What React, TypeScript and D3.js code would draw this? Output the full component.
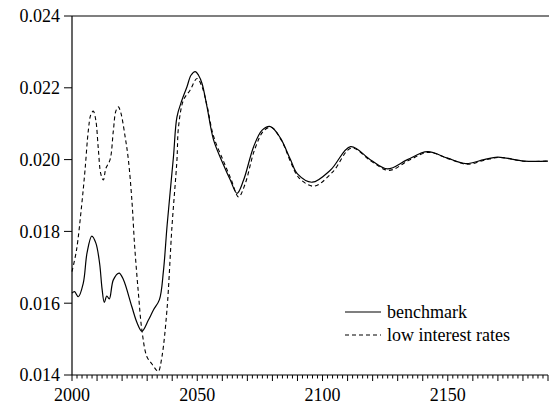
import React from "react";
import * as d3 from "d3";

const benchYears = [2000, 2001, 2002.5, 2004.5, 2006, 2007.9, 2009.5, 2011, 2012, 2012.9, 2013.9, 2014.9, 2016.5, 2018.8, 2020.5, 2023.9, 2026, 2027.9, 2030.5, 2032.5, 2034.9, 2036.5, 2038, 2040.5, 2041.9, 2043.9, 2045.9, 2047.5, 2049.2, 2050.5, 2051.9, 2053.9, 2056.5, 2060.5, 2063.2, 2065.9, 2068.5, 2072.5, 2075.9, 2079.2, 2083.2, 2087.2, 2090, 2095.9, 2103.2, 2111.2, 2119.2, 2125.9, 2133.9, 2141.9, 2149.9, 2157.2, 2164.5, 2169.9, 2180.5, 2190];
const benchValues = [0.01628, 0.01632, 0.01618, 0.01656, 0.0174, 0.01787, 0.01768, 0.01712, 0.0164, 0.01602, 0.0162, 0.01612, 0.01665, 0.01684, 0.01666, 0.0159, 0.01545, 0.01522, 0.01553, 0.01581, 0.0161, 0.0169, 0.0182, 0.02008, 0.02119, 0.02166, 0.02203, 0.02235, 0.02245, 0.02235, 0.02212, 0.02147, 0.02055, 0.01985, 0.01943, 0.01906, 0.01943, 0.02036, 0.02082, 0.02092, 0.0206, 0.02, 0.0196, 0.01937, 0.01971, 0.02036, 0.01999, 0.01974, 0.02, 0.02022, 0.02004, 0.01989, 0.02, 0.02007, 0.01996, 0.01996];

const lowYears = [2000, 2001.8, 2003.8, 2005.2, 2006.5, 2007.5, 2008.5, 2009.5, 2010.5, 2011.5, 2012.5, 2013.5, 2015.2, 2016.5, 2017.5, 2018.5, 2019.5, 2021.2, 2022.5, 2023.9, 2025, 2026.5, 2027.9, 2029.9, 2032, 2033.9, 2034.5, 2035.9, 2037.9, 2039.9, 2041.9, 2042.5, 2044.5, 2047.2, 2049.9, 2051.9, 2053.9, 2056.5, 2060.5, 2063.5, 2066.5, 2069, 2073, 2076.5, 2079.5, 2083.5, 2087.5, 2090.5, 2096.5, 2104, 2111.5, 2119.5, 2126.5, 2134.5, 2142.2, 2150.5, 2157.8, 2165, 2170.5, 2181, 2190];
const lowValues = [0.01688, 0.01748, 0.01869, 0.01971, 0.0208, 0.02125, 0.02135, 0.0211, 0.0203, 0.0196, 0.01943, 0.01975, 0.02, 0.0208, 0.02135, 0.02147, 0.0213, 0.02064, 0.02, 0.01887, 0.0176, 0.01628, 0.01525, 0.01451, 0.0143, 0.01412, 0.0141, 0.01451, 0.01581, 0.01813, 0.02, 0.0209, 0.02166, 0.02194, 0.02226, 0.02203, 0.0215, 0.02065, 0.01995, 0.01945, 0.01896, 0.0193, 0.0203, 0.0208, 0.0209, 0.02055, 0.0199, 0.0195, 0.01926, 0.01965, 0.02032, 0.01995, 0.0197, 0.01998, 0.0202, 0.02002, 0.01987, 0.01999, 0.02006, 0.01995, 0.01996];

const yTicks = [0.014, 0.016, 0.018, 0.02, 0.022, 0.024];
const xLabelTicks = [2000, 2050, 2100, 2150];
const seriesNames = ["benchmark", "low interest rates"];

const W = 549;
const H = 412;
const left = 72;
const right = 548;
const top = 16;
const bottom = 375;
const FONT = "\"Liberation Serif\", \"Times New Roman\", Times, \"Nimbus Roman\", \"DejaVu Serif\", \"Noto Serif\", serif";
const textStyle: React.CSSProperties = { fontFamily: FONT, fontSize: "18px" };

export default function App() {
  const x = d3.scaleLinear().domain([2000, 2190]).range([left, right]);
  const y = d3.scaleLinear().domain([0.014, 0.024]).range([bottom, top]);

  const line = d3
    .line<[number, number]>()
    .x((d) => x(d[0]))
    .y((d) => y(d[1]))
    .curve(d3.curveCatmullRom.alpha(0.5));

  const benchPath = line(benchYears.map((yr, i) => [yr, benchValues[i]]) as [number, number][]) || "";
  const lowPath = line(lowYears.map((yr, i) => [yr, lowValues[i]]) as [number, number][]) || "";

  const minorTicks = d3.range(2000, 2191, 2);

  return (
    <svg
      width={W}
      height={H}
      style={{ position: "absolute", left: 0, top: 0, background: "#fff", fontFamily: FONT }}
    >
      <rect x={0} y={0} width={W} height={H} fill="#fff" />
      <line x1={left} x2={right + 1} y1={top} y2={top} stroke="#000" strokeWidth={1.2} />
      <line x1={left} x2={left} y1={top} y2={bottom} stroke="#000" strokeWidth={1.2} />
      <line x1={left} x2={right} y1={bottom} y2={bottom} stroke="#000" strokeWidth={1.2} />

      {yTicks.map((t) => (
        <g key={t}>
          <line x1={left - 8} x2={left} y1={y(t)} y2={y(t)} stroke="#000" strokeWidth={1} />
          <text
            x={left - 12}
            y={y(t)}
            dy="0.35em"
            textAnchor="end"
            style={textStyle}
            fill="#000"
          >
            {d3.format(".3f")(t)}
          </text>
        </g>
      ))}

      {minorTicks.map((t) => {
        const len = t % 10 === 0 ? 6 : 3.5;
        return (
          <line
            key={t}
            x1={x(t)}
            x2={x(t)}
            y1={bottom}
            y2={bottom + len}
            stroke="#000"
            strokeWidth={1}
          />
        );
      })}
      {xLabelTicks.map((t) => (
        <text key={t} x={x(t)} y={401} textAnchor="middle" style={textStyle} fill="#000">
          {t}
        </text>
      ))}

      <path d={benchPath} fill="none" stroke="#000" strokeWidth={1.2} />
      <path d={lowPath} fill="none" stroke="#000" strokeWidth={1.1} strokeDasharray="4,3" />

      <line x1={345} x2={381} y1={312} y2={312} stroke="#000" strokeWidth={1.2} />
      <text x={387} y={312} dy="0.35em" style={textStyle} fill="#000">
        {seriesNames[0]}
      </text>
      <line x1={345} x2={381} y1={335} y2={335} stroke="#000" strokeWidth={1.1} strokeDasharray="4,3" />
      <text x={387} y={335} dy="0.35em" style={textStyle} fill="#000">
        {seriesNames[1]}
      </text>
    </svg>
  );
}
